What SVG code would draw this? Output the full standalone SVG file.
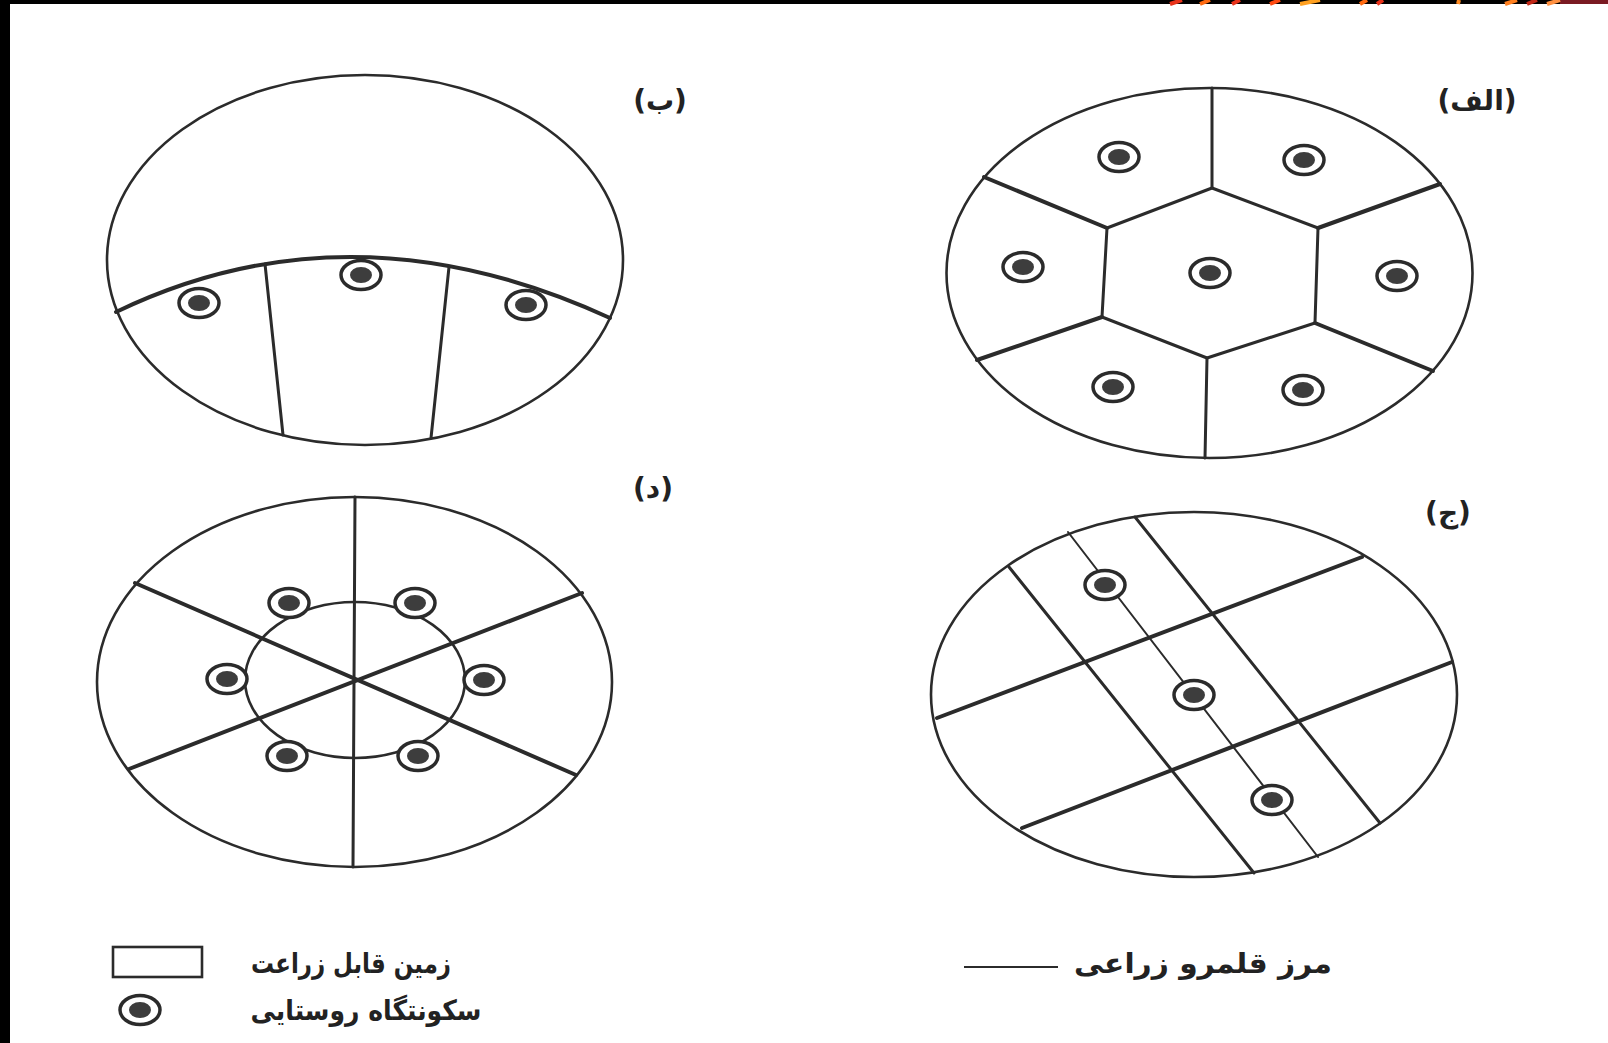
<svg xmlns="http://www.w3.org/2000/svg" xmlns:xlink="http://www.w3.org/1999/xlink" width="1608" height="1043" viewBox="0 0 1608 1043">
<style>
.ol{fill:none;stroke:#2b2b2b;stroke-width:2.6}
.ln{fill:none;stroke:#2b2b2b;stroke-width:3;stroke-linecap:round}
.th{fill:none;stroke:#2b2b2b;stroke-width:4;stroke-linecap:round}
.tn{fill:none;stroke:#2b2b2b;stroke-width:2;stroke-linecap:round}
.lbl{font-family:"DejaVu Sans",sans-serif;font-size:28px;font-weight:bold;fill:#222;text-anchor:middle}
.leg{font-family:"DejaVu Sans",sans-serif;font-size:28px;font-weight:bold;fill:#222;text-anchor:middle}
</style>
<defs>
<g id="dot">
<ellipse rx="20" ry="14.5" fill="#fff" stroke="#2b2b2b" stroke-width="3.5"/>
<ellipse rx="11" ry="8" fill="#3d3d3d"/>
</g>
</defs>
<rect width="1608" height="1043" fill="#fff"/>
<g id="frame">
<rect x="0" y="0" width="1608" height="4" fill="#000"/>
<rect x="0" y="0" width="10" height="1043" fill="#000"/>
<rect x="1560" y="0" width="48" height="4" fill="#7a1a22"/>
<g stroke-width="4">
<line x1="1170" y1="4" x2="1182" y2="0" stroke="#e8321a"/>
<line x1="1200" y1="4" x2="1210" y2="0" stroke="#ff6a10"/>
<line x1="1232" y1="4" x2="1240" y2="0" stroke="#e8321a"/>
<line x1="1270" y1="4" x2="1280" y2="0" stroke="#ff4a10"/>
<line x1="1300" y1="4" x2="1320" y2="0" stroke="#ffa020"/>
<line x1="1360" y1="4" x2="1367" y2="0" stroke="#ff6a10"/>
<line x1="1377" y1="4" x2="1383" y2="0" stroke="#e8321a"/>
<line x1="1458" y1="4" x2="1459" y2="0" stroke="#ff8a20"/>
<line x1="1505" y1="4" x2="1517" y2="0" stroke="#ff8020"/>
<line x1="1527" y1="4" x2="1537" y2="0" stroke="#c02818"/>
<line x1="1547" y1="4" x2="1560" y2="0" stroke="#ff9040"/>
</g>
</g>

<g id="panel-b">
<ellipse class="ol" cx="365" cy="260" rx="258" ry="185"/>
<path class="th" d="M116,312 Q351,199 610,318"/>
<line class="ln" x1="265" y1="264" x2="283" y2="435"/>
<line class="ln" x1="449" y1="267" x2="431" y2="438"/>
<use xlink:href="#dot" x="199" y="303"/>
<use xlink:href="#dot" x="361" y="275"/>
<use xlink:href="#dot" x="526" y="305"/>
<text class="lbl" x="660" y="110">(ب)</text>
</g>

<g id="panel-alef">
<ellipse class="ol" cx="1209.5" cy="273" rx="263" ry="185"/>
<path class="ln" d="M1212,188 L1318,228 L1315,323 L1207,358 L1102,317 L1107,228 Z" stroke-linejoin="round"/>
<line class="ln" x1="1212" y1="188" x2="1212" y2="88"/>
<line class="th" x1="1318" y1="228" x2="1440" y2="184"/>
<line class="th" x1="1315" y1="323" x2="1433" y2="371"/>
<line class="ln" x1="1207" y1="358" x2="1205" y2="458"/>
<line class="th" x1="1102" y1="317" x2="977" y2="360"/>
<line class="th" x1="1107" y1="228" x2="984" y2="177"/>
<use xlink:href="#dot" x="1119" y="157"/>
<use xlink:href="#dot" x="1304" y="160"/>
<use xlink:href="#dot" x="1023" y="267"/>
<use xlink:href="#dot" x="1210" y="273"/>
<use xlink:href="#dot" x="1397" y="276"/>
<use xlink:href="#dot" x="1113" y="387"/>
<use xlink:href="#dot" x="1303" y="390"/>
<text class="lbl" x="1477" y="110">(الف)</text>
</g>

<g id="panel-dal">
<ellipse class="ol" cx="354.5" cy="682" rx="257.5" ry="185"/>
<ellipse class="ol" cx="355" cy="680" rx="110" ry="78"/>
<line class="ln" x1="355" y1="497" x2="353" y2="867"/>
<line class="th" x1="135" y1="583" x2="576" y2="775"/>
<line class="th" x1="582" y1="593" x2="129" y2="769"/>
<use xlink:href="#dot" x="289" y="603"/>
<use xlink:href="#dot" x="415" y="603"/>
<use xlink:href="#dot" x="227" y="679"/>
<use xlink:href="#dot" x="484" y="680"/>
<use xlink:href="#dot" x="287" y="756"/>
<use xlink:href="#dot" x="418" y="756"/>
<text class="lbl" x="653" y="498">(د)</text>
</g>

<g id="panel-jim">
<ellipse class="ol" cx="1194" cy="694.5" rx="263" ry="182.5"/>
<line class="ln" x1="1009" y1="567" x2="1254" y2="873"/>
<line class="tn" x1="1068" y1="532" x2="1318" y2="857"/>
<line class="ln" x1="1135" y1="517" x2="1380" y2="823"/>
<line class="th" x1="937" y1="718" x2="1362" y2="557"/>
<line class="th" x1="1022" y1="828" x2="1452" y2="662"/>
<use xlink:href="#dot" x="1105" y="585"/>
<use xlink:href="#dot" x="1194" y="695"/>
<use xlink:href="#dot" x="1272" y="800"/>
<text class="lbl" x="1448" y="522">(ج)</text>
</g>

<g id="legend">
<rect x="113" y="947" width="89" height="30" fill="#fff" stroke="#2b2b2b" stroke-width="2.6"/>
<text class="leg" x="351" y="973" textLength="200" lengthAdjust="spacingAndGlyphs">زمین قابل زراعت</text>
<use xlink:href="#dot" x="140" y="1010"/>
<text class="leg" x="366" y="1020" textLength="231" lengthAdjust="spacingAndGlyphs">سکونتگاه روستایی</text>
<line x1="964" y1="967" x2="1058" y2="967" stroke="#2b2b2b" stroke-width="2"/>
<text class="leg" x="1203" y="973" textLength="258" lengthAdjust="spacingAndGlyphs">مرز قلمرو زراعی</text>
</g>
</svg>
